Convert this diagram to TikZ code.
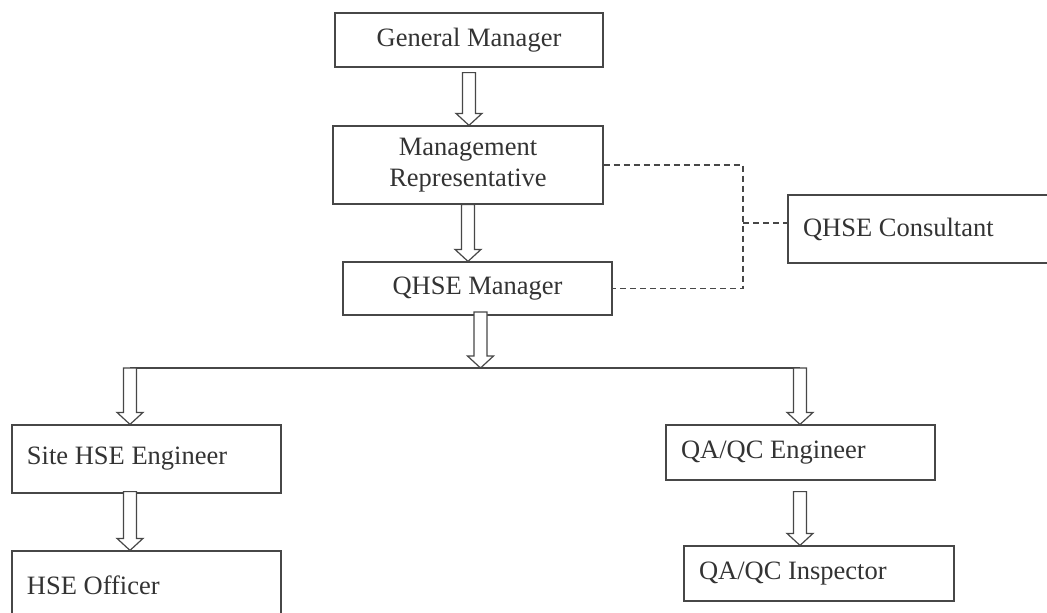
\documentclass[tikz,border=0pt]{standalone}
\usepackage{fontspec}
\setmainfont{Liberation Serif}
\usetikzlibrary{calc,positioning}

% hollow block arrow: [gap]{top}{bottom}, x taken from top
\newcommand{\blockarrow}[3][0]{%
  \draw[blockline] ($(#2)+(-6.5,#1)$) -- ($(#2|-#3)+(-6.5,-12)$) -- ($(#2|-#3)+(-13,-12)$)
    -- (#2|-#3) -- ($(#2|-#3)+(13,-12)$) -- ($(#2|-#3)+(6.5,-12)$) -- ($(#2)+(6.5,#1)$) -- cycle;}

\begin{document}
\begin{tikzpicture}[x=1pt,y=-1pt,
  ink/.style={draw=black!72,line width=1.2pt},
  box/.style={ink,rectangle,inner sep=0pt,align=center,text=black!80,
    font=\fontsize{26.5}{31}\selectfont},
  leftbox/.style={box,align=flush left,inner xsep=15pt,inner ysep=0pt},
  blockline/.style={ink,fill=white,line join=miter},
  dashline/.style={draw=black!72,line width=1.1pt,dash pattern=on 6pt off 4pt}]
\useasboundingbox (0,0) rectangle (1047,613);
\clip (0,0) rectangle (1047,613);
% --- top chain ---
\node[box,minimum width=268pt,minimum height=54pt] (gm) at (469,40) {General Manager};
\node[box,minimum width=270pt,minimum height=78pt] (mr) at (468,165) {Management\\Representative};
\node[box,minimum width=269pt,minimum height=53pt] (qm) at (477.5,288.5) {QHSE Manager};
\node[leftbox,text width=260pt,minimum height=68pt] (qc) at (933,229) {QHSE Consultant};
% --- branches ---
\node[leftbox,text width=239pt,minimum height=68pt] (se) at (146.5,459) {Site HSE Engineer};
\node[leftbox,text width=239pt,minimum height=68pt] (ho) at (146.5,585) {HSE Officer};
\node[leftbox,text width=239pt,minimum height=55pt] (qe) at (800.5,452.5) {QA/QC Engineer};
\node[leftbox,text width=240pt,minimum height=55pt] (qi) at (819,573.5) {QA/QC Inspector};
% --- helper points ---
\coordinate (qmout) at (480.5,312);
\coordinate (split) at (480.5,368);
\coordinate (lft) at (130,368);
\coordinate (rgt) at (800,368);
\coordinate (seout) at (lft|-se.south);
\coordinate (qeout) at (rgt|-qe.south);
\coordinate (dtop) at (743,165);
\coordinate (dbot) at (dtop|-qm.east);
\coordinate (dmid) at (743,223);
% --- consultant link ---
\draw[dashline] (mr.east) -- (dtop) -- (dbot) -- (qm.east);
\draw[dashline] (dmid) -- (dmid-|qc.west);
% --- arrows ---
\blockarrow[5]{gm.south}{mr.north}
\blockarrow{mr.south}{qm.north}
\blockarrow{qmout}{split}
\draw[ink] (lft) -- (rgt);
\blockarrow{lft}{se.north}
\blockarrow{rgt}{qe.north}
\blockarrow[-2]{seout}{ho.north}
\blockarrow[11]{qeout}{qi.north}
\end{tikzpicture}
\end{document}
